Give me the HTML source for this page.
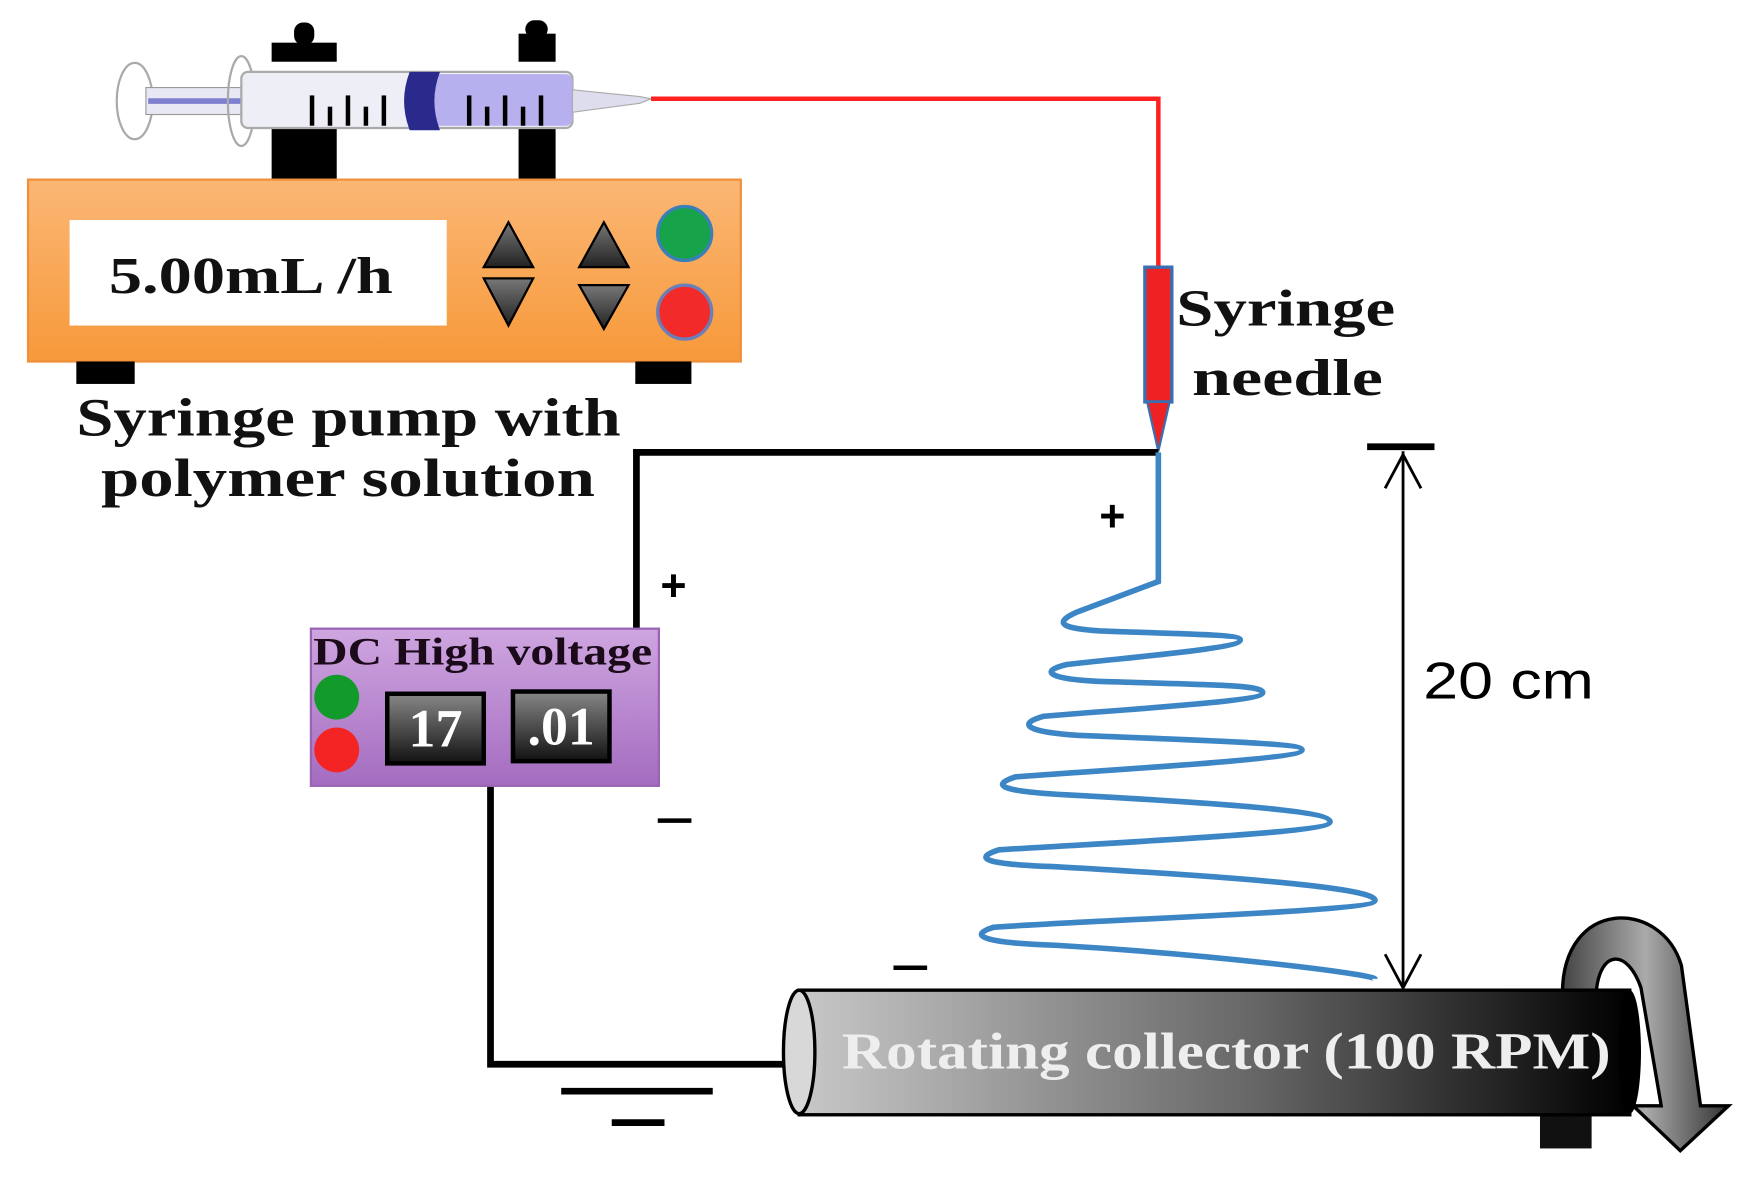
<!DOCTYPE html>
<html><head><meta charset="utf-8"><style>
html,body{margin:0;padding:0;background:#fff;}
svg{display:block;}
.serif{font-family:"Liberation Serif",serif;font-weight:bold;}
</style></head><body>
<svg width="1751" height="1181" viewBox="0 0 1560 1052" preserveAspectRatio="none" xmlns="http://www.w3.org/2000/svg">
<defs>
<linearGradient id="org" x1="0" y1="0" x2="0" y2="1"><stop offset="0" stop-color="#fbb775"/><stop offset="1" stop-color="#f7993a"/></linearGradient>
<linearGradient id="pur" x1="0" y1="0" x2="0" y2="1"><stop offset="0" stop-color="#cfa6e0"/><stop offset="1" stop-color="#a46cc0"/></linearGradient>
<linearGradient id="cyl" x1="0" y1="0" x2="1" y2="0"><stop offset="0" stop-color="#c8c8c8"/><stop offset="0.55" stop-color="#666"/><stop offset="1" stop-color="#000"/></linearGradient>
<linearGradient id="dsp" x1="0" y1="0" x2="0" y2="1"><stop offset="0" stop-color="#888"/><stop offset="1" stop-color="#111"/></linearGradient>
<linearGradient id="tri" x1="0" y1="0" x2="0" y2="1"><stop offset="0" stop-color="#777"/><stop offset="1" stop-color="#222"/></linearGradient>
<linearGradient id="arr" x1="0" y1="0" x2="1" y2="0"><stop offset="0" stop-color="#444"/><stop offset="0.5" stop-color="#aaa"/><stop offset="1" stop-color="#333"/></linearGradient>
</defs>

<!-- syringe -->
<ellipse cx="120" cy="90" rx="16" ry="34" fill="#fff" stroke="#aaa" stroke-width="2"/>
<rect x="130" y="78" width="90" height="24" fill="#e8e8f4" stroke="#999" stroke-width="1"/>
<line x1="132" y1="90" x2="360" y2="90" stroke="#7f7fd0" stroke-width="5"/>
<ellipse cx="215" cy="90" rx="12" ry="40" fill="none" stroke="#aaa" stroke-width="2"/>
<rect x="215" y="64" width="295" height="50" rx="6" fill="#eeeef6" stroke="#aaa" stroke-width="2"/>
<rect x="385" y="66" width="125" height="46" rx="6" fill="#b7b0ee"/>
<path d="M365,64 Q355,90 365,116 L392,116 Q382,90 392,64Z" fill="#2a2a8c"/>
<path d="M510,80 L570,86 L580,88 L570,92 L510,100Z" fill="#dde" stroke="#aaa"/>
<g stroke="#000" stroke-width="4">
<line x1="278" y1="85" x2="278" y2="112"/><line x1="294" y1="95" x2="294" y2="112"/><line x1="310" y1="85" x2="310" y2="112"/><line x1="326" y1="95" x2="326" y2="112"/><line x1="342" y1="85" x2="342" y2="112"/>
<line x1="418" y1="85" x2="418" y2="112"/><line x1="434" y1="95" x2="434" y2="112"/><line x1="450" y1="85" x2="450" y2="112"/><line x1="466" y1="95" x2="466" y2="112"/><line x1="482" y1="85" x2="482" y2="112"/>
</g>
<rect x="242" y="38" width="58" height="17" fill="#000"/><rect x="262" y="20" width="18" height="20" rx="8" fill="#000"/>
<rect x="242" y="115" width="58" height="45" fill="#000"/>
<rect x="462" y="30" width="33" height="25" fill="#000"/><rect x="468" y="18" width="20" height="16" rx="8" fill="#000"/>
<rect x="462" y="115" width="33" height="45" fill="#000"/>

<!-- red tube -->
<polyline points="580,88 1032,88 1032,238" fill="none" stroke="#ff2020" stroke-width="4"/>
<rect x="1020" y="238" width="24" height="120" fill="#ee2222" stroke="#3a6fb0" stroke-width="3"/>
<path d="M1022,358 L1042,358 L1032,402Z" fill="#ee2222" stroke="#3a6fb0" stroke-width="2"/>

<!-- pump box -->
<rect x="25" y="160" width="635" height="162" fill="url(#org)" stroke="#f0903a" stroke-width="2"/>
<rect x="62" y="196" width="336" height="94" fill="#fff"/>
<text x="97" y="261" class="serif" font-size="46" fill="#111" textLength="253" lengthAdjust="spacingAndGlyphs">5.00mL /h</text>
<path d="M453,198 L475,238 L431,238Z" fill="url(#tri)" stroke="#000" stroke-width="2"/>
<path d="M431,248 L475,248 L453,290Z" fill="url(#tri)" stroke="#000" stroke-width="2"/>
<path d="M538,198 L560,238 L516,238Z" fill="url(#tri)" stroke="#000" stroke-width="2"/>
<path d="M516,254 L560,254 L538,293Z" fill="url(#tri)" stroke="#000" stroke-width="2"/>
<circle cx="610" cy="208" r="24" fill="#17a34a" stroke="#3a7fb8" stroke-width="3"/>
<circle cx="610" cy="278" r="24" fill="#f22a2a" stroke="#6a7fb8" stroke-width="3"/>
<rect x="68" y="322" width="52" height="20" fill="#000"/>
<rect x="566" y="322" width="50" height="20" fill="#000"/>

<text x="68" y="388" class="serif" font-size="48" fill="#111" textLength="485" lengthAdjust="spacingAndGlyphs">Syringe pump with</text>
<text x="90" y="442" class="serif" font-size="48" fill="#111" textLength="440" lengthAdjust="spacingAndGlyphs">polymer solution</text>

<text x="1048" y="290" class="serif" font-size="46" fill="#111" textLength="195" lengthAdjust="spacingAndGlyphs">Syringe</text>
<text x="1062" y="352" class="serif" font-size="46" fill="#111" textLength="170" lengthAdjust="spacingAndGlyphs">needle</text>

<!-- wires -->
<polyline points="1032,403 567,403 567,560" fill="none" stroke="#000" stroke-width="6"/>
<polyline points="437,700 437,948 700,948" fill="none" stroke="#000" stroke-width="6"/>
<line x1="500" y1="972" x2="635" y2="972" stroke="#000" stroke-width="6"/>
<line x1="545" y1="1000" x2="592" y2="1000" stroke="#000" stroke-width="6"/>

<text x="600" y="535" text-anchor="middle" font-family="Liberation Sans,sans-serif" font-size="40" font-weight="bold" fill="#000">+</text>
<text x="991" y="473" text-anchor="middle" font-family="Liberation Sans,sans-serif" font-size="40" font-weight="bold" fill="#000">+</text>
<line x1="586" y1="731" x2="616" y2="731" stroke="#000" stroke-width="4"/>
<line x1="796" y1="862" x2="826" y2="862" stroke="#000" stroke-width="4"/>

<!-- DC box -->
<rect x="277" y="560" width="310" height="140" fill="url(#pur)" stroke="#9a64b4" stroke-width="2"/>
<text x="279" y="592" class="serif" font-size="35" fill="#1a0a1a" textLength="302" lengthAdjust="spacingAndGlyphs">DC High voltage</text>
<circle cx="300" cy="621" r="20" fill="#129a2a"/>
<circle cx="300" cy="668" r="20" fill="#f42424"/>
<rect x="345" y="618" width="86" height="62" fill="url(#dsp)" stroke="#000" stroke-width="4"/>
<text x="388" y="665" text-anchor="middle" class="serif" font-size="48" fill="#fff">17</text>
<rect x="457" y="616" width="86" height="62" fill="url(#dsp)" stroke="#000" stroke-width="4"/>
<text x="500" y="663" text-anchor="middle" class="serif" font-size="48" fill="#fff">.01</text>

<!-- jet -->
<path d="M1032,403 L1032,518 L960,545 C935,556 950,560 980,562 C1060,565 1105,565 1105,570 C1105,578 1000,586 950,592 C925,598 935,605 980,607 C1080,610 1125,610 1125,617 C1125,625 1000,632 930,638 C905,645 915,652 960,655 C1080,660 1160,662 1160,668 C1160,676 1000,685 905,692 C880,700 895,705 950,708 C1080,715 1185,722 1185,732 C1185,742 1000,750 890,757 C865,765 880,770 940,772 C1080,780 1225,790 1225,802 C1225,812 1000,818 885,826 C860,834 880,840 940,842 C1080,850 1225,868 1225,872" fill="none" stroke="#3d86c6" stroke-width="5"/>

<!-- measure -->
<line x1="1218" y1="398" x2="1278" y2="398" stroke="#000" stroke-width="6"/>
<line x1="1250" y1="402" x2="1250" y2="880" stroke="#000" stroke-width="2.5"/>
<polyline points="1234,435 1250,405 1266,435" fill="none" stroke="#000" stroke-width="2.5"/>
<polyline points="1234,850 1250,880 1266,850" fill="none" stroke="#000" stroke-width="2.5"/>
<text x="1268" y="622" font-family="Liberation Sans,sans-serif" font-size="46" fill="#000" textLength="152" lengthAdjust="spacingAndGlyphs">20 cm</text>

<!-- rotation arrow back -->
<path d="M1392,885 C1392,800 1480,800 1498,860 L1515,985 L1540,985 L1497,1025 L1455,985 L1480,985 L1462,880 C1450,845 1425,845 1422,885Z" fill="url(#arr)" stroke="#000" stroke-width="3"/>
<rect x="1372" y="985" width="46" height="38" fill="#111"/>

<!-- collector -->
<rect x="712" y="882" width="740" height="111" fill="url(#cyl)" stroke="#000" stroke-width="3"/>
<ellipse cx="1452" cy="937" rx="10" ry="55" fill="#000"/>
<ellipse cx="712" cy="937" rx="14" ry="55" fill="#d8d8d8" stroke="#000" stroke-width="3"/>
<text x="750" y="952" class="serif" font-size="46" fill="#eee" textLength="685" lengthAdjust="spacingAndGlyphs">Rotating collector (100 RPM)</text>
</svg>
</body></html>
